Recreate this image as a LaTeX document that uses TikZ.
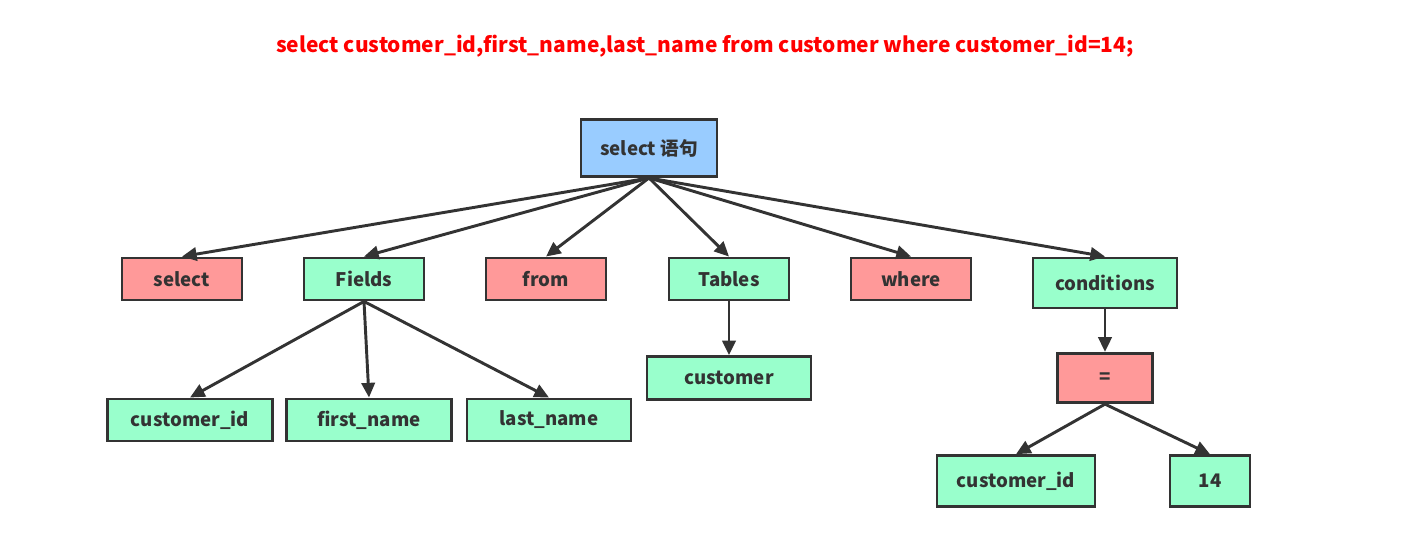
\documentclass[tikz,border=0pt]{standalone}
\usepackage{fontspec}
\setmainfont{Noto Sans CJK SC}
\usetikzlibrary{arrows.meta, positioning}
\definecolor{rootblue}{HTML}{99CCFF}
\definecolor{kwred}{HTML}{FF9999}
\definecolor{partgreen}{HTML}{99FFCC}
\definecolor{edgegray}{HTML}{333333}

\begin{document}
\begin{tikzpicture}[x=0.75pt, y=-0.75pt, >={Triangle[length=11pt, width=10pt]},
  box/.style={draw=edgegray, line width=2.2pt, text=edgegray,
    font=\fontsize{14}{16}\selectfont\bfseries, inner sep=0pt,
    minimum width=90pt, minimum height=31.5pt},
  rootbox/.style={box, fill=rootblue, minimum width=102pt, minimum height=42.75pt},
  kwbox/.style={box, fill=kwred},
  partbox/.style={box, fill=partgreen},
  arr/.style={->, draw=edgegray, line width=2.2pt}]
  \useasboundingbox (0,0) rectangle (1403,542);
  % query text
  \node[text=red, font=\fontsize{15.7}{18}\selectfont\bfseries] (query) at (705,46)
    {select customer\_id,first\_name,last\_name from customer where customer\_id=14;};
  % root
  \node[rootbox] (stmt) at (649,148) {select 语句};
  % first level
  \node[kwbox]   (kwselect) at (182,279) {select};
  \node[partbox] (fields)   at (364,279) {Fields};
  \node[kwbox]   (kwfrom)   at (546,279) {from};
  \node[partbox] (tables)   at (729,279) {Tables};
  \node[kwbox]   (kwwhere)  at (911,279) {where};
  \node[partbox, minimum width=108pt, minimum height=37.5pt] (conds) at (1105,283) {conditions};
  % fields
  \node[partbox, minimum width=124pt] (fid)    at (190,420) {customer\_id};
  \node[partbox, minimum width=124pt] (ffirst) at (369,420) {first\_name};
  \node[partbox, minimum width=123pt] (flast)  at (549,420) {last\_name};
  % tables
  \node[partbox, minimum width=123pt, minimum height=32pt] (tcust) at (729,378) {customer};
  % conditions
  \node[kwbox, minimum width=71pt, minimum height=37pt] (ceq) at (1105,378) {=};
  \node[partbox, minimum width=118.5pt, minimum height=38pt] (cid) at (1016,481) {customer\_id};
  \node[partbox, minimum width=60pt, minimum height=38pt] (cval) at (1210,481) {14};
  % edges
  \foreach \child in {kwselect, fields, kwfrom, tables, kwwhere, conds}
    \draw[arr] (stmt.south) -- (\child.north);
  \foreach \child in {fid, ffirst, flast}
    \draw[arr] (fields.south) -- (\child.north);
  \draw[arr] (tables.south) -- (tcust.north);
  \draw[arr] (conds.south) -- (ceq.north);
  \draw[arr] (ceq.south) -- (cid.north);
  \draw[arr] (ceq.south) -- (cval.north);
\end{tikzpicture}
\end{document}
